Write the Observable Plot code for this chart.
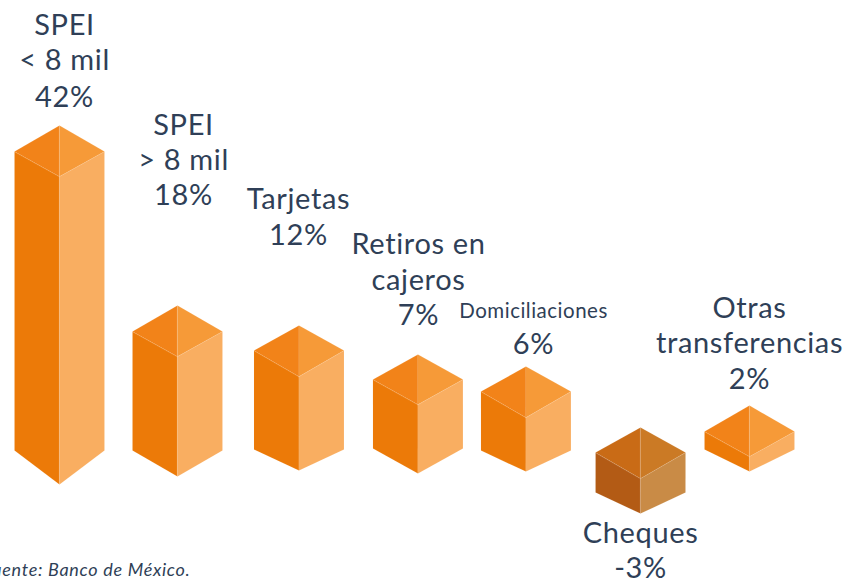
<!DOCTYPE html>
<html lang="es">
<head>
<meta charset="utf-8">
<script src="https://cdn.jsdelivr.net/npm/d3@7"></script>
<script src="https://cdn.jsdelivr.net/npm/@observablehq/plot@0.6"></script>
<style>
html, body { margin: 0; padding: 0; background: #fff; }
svg { display: block; }
g[font-size="29"] { letter-spacing: 0.65px; }
g[font-size="20.5"] { letter-spacing: 0.5px; }
g[font-size="18"] { letter-spacing: 0.7px; }
</style>
</head>
<body>
<div id="chart"></div>
<script>
// Categories and the figures printed on the chart
const categories = ["SPEI < 8 mil", "SPEI > 8 mil", "Tarjetas", "Retiros en cajeros", "Domiciliaciones", "Cheques", "Otras transferencias"];
const values = [42, 18, 12, 7, 6, -3, 2];

// Bar geometry: position in bar widths, levels in percentage points
const barPosition = [0, 1.311, 2.661, 3.983, 5.183, 6.456, 7.667];
const apexLevel = [45.65, 20.37, 17.56, 13.48, 11.8, 3.23, 6.32];
const edgeTop = [42, 16.72, 14.05, 9.97, 8.29, -0.28, 2.67];
const ridgeTop = [38.49, 13.2, 10.39, 6.46, 4.64, -3.93, -0.84];
const edgeBase = [0, 0, 0.14, 0.28, 0, -5.9, 0.14];
const ridgeBase = [-4.78, -3.65, -2.81, -3.23, -2.95, -8.85, -2.95];

// Label text, line by line
const labelLines = [
  ["SPEI", "< 8 mil"],
  ["SPEI", "> 8 mil"],
  ["Tarjetas"],
  ["Retiros en", "cajeros"],
  ["Domiciliaciones"],
  ["Cheques"],
  ["Otras", "transferencias"]
];
const labelPosition = [0.056, 1.378, 2.656, 3.989, 5.267, 6.456, 7.667];
const labelLevels = [
  [59.7, 54.8, 49.6],
  [45.65, 40.7, 35.8],
  [35.26, 30.2],
  [28.94, 23.9, 19.0],
  [19.58, 14.89],
  [-11.7, -16.6],
  [19.9, 15.0, 10.0]
];
const sourceText = "Fuente: Banco de México.";

const palette = {
  up: { left: "#ec7a08", right: "#f9ae61", topLeft: "#f28319", topRight: "#f69a38" },
  down: { left: "#b35b15", right: "#c98b46", topLeft: "#c96b16", topRight: "#cb7a25" }
};

const faces = categories.flatMap((name, i) => {
  const c = barPosition[i];
  const col = values[i] < 0 ? palette.down : palette.up;
  const poly = (face, fill, pts) => pts.map(([x, y]) => ({ key: name + face, fill, x, y }));
  return [
    ...poly("L", col.left, [[c - 0.5, edgeTop[i]], [c, ridgeTop[i]], [c, ridgeBase[i]], [c - 0.5, edgeBase[i]]]),
    ...poly("R", col.right, [[c, ridgeTop[i]], [c + 0.5, edgeTop[i]], [c + 0.5, edgeBase[i]], [c, ridgeBase[i]]]),
    ...poly("TL", col.topLeft, [[c - 0.5, edgeTop[i]], [c, apexLevel[i]], [c, ridgeTop[i]]]),
    ...poly("TR", col.topRight, [[c, apexLevel[i]], [c + 0.5, edgeTop[i]], [c, ridgeTop[i]]])
  ];
});

const labels = categories.flatMap((name, i) => {
  const lines = [...labelLines[i], `${values[i]}%`];
  return lines.map((text, j) => ({
    text,
    x: labelPosition[i],
    y: labelLevels[i][j],
    small: text === "Domiciliaciones"
  }));
});

const fontFamily = "Lato, 'Noto Sans', sans-serif";
const chart = Plot.plot({
  width: 850,
  height: 580,
  margin: 0,
  style: { background: "#fff", fontFamily },
  x: { domain: [-0.6556, 8.789], axis: null },
  y: { domain: [-18.25, 63.22], axis: null },
  color: { type: "identity" },
  marks: [
    Plot.line(faces, { x: "x", y: "y", z: "key", fill: "fill", stroke: "#fff", strokeOpacity: 0.2, strokeWidth: 0.5, curve: "linear-closed" }),
    Plot.text(labels.filter(d => !d.small), { x: "x", y: "y", text: "text", fontSize: 29, fill: "#2f3f57", textAnchor: "middle", lineAnchor: "middle" }),
    Plot.text(labels.filter(d => d.small), { x: "x", y: "y", text: "text", fontSize: 20.5, fill: "#2f3f57", textAnchor: "middle", lineAnchor: "middle" }),
    Plot.text([sourceText], { x: [1.456], y: [-16.86], text: d => d, fontSize: 18, fontStyle: "italic", fill: "#2f3f57", textAnchor: "end", lineAnchor: "middle" })
  ]
});
document.getElementById("chart").append(chart);
</script>
</body>
</html>
